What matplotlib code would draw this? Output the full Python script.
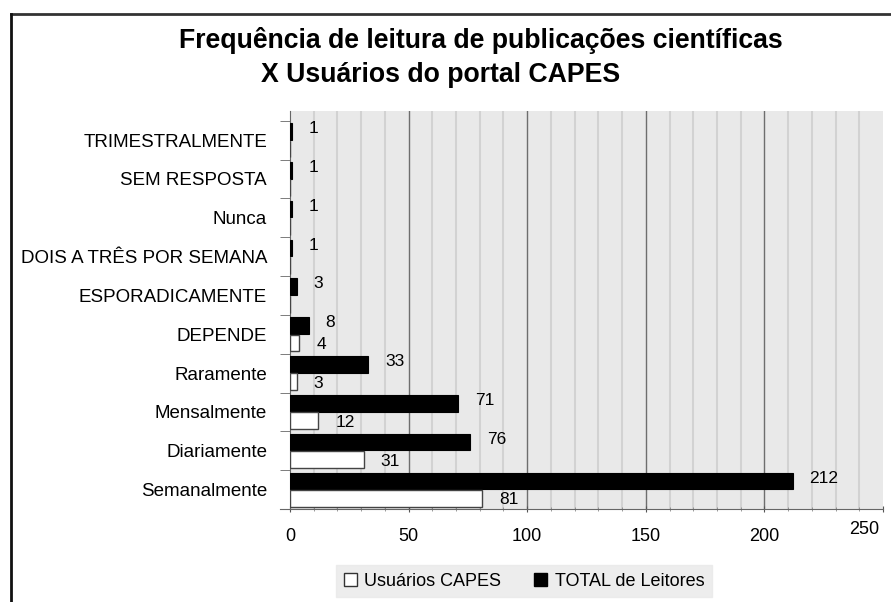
import matplotlib
matplotlib.use("Agg")
import matplotlib.pyplot as plt
import matplotlib.transforms as mt
from matplotlib.lines import Line2D
from matplotlib.patches import Patch
import numpy as np

plt.rcParams['font.family'] = ['Liberation Sans', 'DejaVu Sans']

categories = ["Semanalmente", "Diariamente", "Mensalmente", "Raramente", "DEPENDE",
              "ESPORADICAMENTE", "DOIS A TRÊS POR SEMANA", "Nunca", "SEM RESPOSTA",
              "TRIMESTRALMENTE"]
capes = [81, 31, 12, 3, 4, 0, 0, 0, 0, 0]
total = [212, 76, 71, 33, 8, 3, 1, 1, 1, 1]
xticks = [0, 50, 100, 150, 200, 250]
title1 = "Frequência de leitura de publicações científicas"
title2 = "X Usuários do portal CAPES"
legend_labels = ["Usuários CAPES", "TOTAL de Leitores"]

W, H = 891, 602
fig = plt.figure(figsize=(W / 100, H / 100), dpi=100)
ax = fig.add_axes([290 / W, 1 - 509 / H, (883 - 290) / W, (509 - 111) / H])
ax.set_facecolor('#e9e9e9')

y = np.arange(len(categories))
h = 0.43
ax.barh(y + h / 2 + 0.01, total, height=h, color='black', edgecolor='black', linewidth=0.8, zorder=3)
ax.barh(y - h / 2 - 0.01, capes, height=h, color='white', edgecolor='#444444', linewidth=1.0, zorder=3)

for yi, v in zip(y, total):
    ax.annotate(str(v), (v, yi + h / 2 + 0.08), xytext=(12, 0), textcoords='offset points',
                va='center', ha='left', fontsize=12.5, zorder=4)
for yi, v in zip(y, capes):
    if v > 0:
        ax.annotate(str(v), (v, yi - h / 2 - 0.05), xytext=(12, 0), textcoords='offset points',
                    va='center', ha='left', fontsize=12.5, zorder=4)

ax.set_xlim(0, 250)
ax.set_ylim(-0.5, 9.75)

# grid
for gx in range(10, 250, 10):
    if gx % 50 == 0:
        ax.axvline(gx, color='#6e6e6e', linewidth=1.0, zorder=1)
    else:
        ax.axvline(gx, color='#d2d2d2', linewidth=1.5, zorder=1)

ax.set_xticks(xticks)
ax.set_xticklabels([str(t) for t in xticks], fontsize=13)
ax.set_xticks(range(0, 251, 10), minor=True)
ax.tick_params(axis='x', which='major', length=5, direction='inout', color='#555555', pad=11)
ax.tick_params(axis='x', which='minor', length=3, direction='inout', color='#888888')
lbl = ax.get_xticklabels()[-1]
lbl.set_transform(lbl.get_transform() + mt.ScaledTranslation(-19 / 100, 7 / 100, fig.dpi_scale_trans))

ax.set_yticks(y)
ax.set_yticklabels(categories, fontsize=13.5)
ax.set_yticks(np.arange(-0.5, 10, 1), minor=True)
ax.tick_params(axis='y', which='major', length=0, pad=16.5)
ax.tick_params(axis='y', which='minor', length=7.5, color='#666666')

for s in ['top', 'right']:
    ax.spines[s].set_visible(False)
ax.spines['left'].set_color('#666666')
ax.spines['bottom'].set_color('#666666')

# extended bottom axis line to the left
fig.add_artist(Line2D([280 / W, 290 / W], [1 - 509 / H, 1 - 509 / H], color='#666666', linewidth=0.8))

# outer frame
fig.add_artist(Line2D([11 / W, 1.0], [1 - 14 / H, 1 - 14 / H], color='#333333', linewidth=2))
fig.add_artist(Line2D([11 / W, 11 / W], [0, 1 - 14 / H], color='#111111', linewidth=2))

fig.text(179 / W, 1 - 41 / H, title1, fontsize=19.2, fontweight='bold', ha='left', va='center')
fig.text(261 / W, 1 - 75 / H, title2, fontsize=19.2, fontweight='bold', ha='left', va='center')

handles = [Patch(facecolor='white', edgecolor='#333333'), Patch(facecolor='black', edgecolor='black')]
leg = fig.legend(handles, legend_labels, loc='center', bbox_to_anchor=(524 / W, 1 - 581 / H),
                 ncol=2, frameon=True, fontsize=13, handlelength=0.75, handleheight=0.75,
                 handletextpad=0.4, columnspacing=1.8, borderpad=0.4, fancybox=False)
leg.get_frame().set_facecolor('#e9e9e9')
leg.get_frame().set_edgecolor('#e9e9e9')

fig.savefig('out.png', dpi=100)
